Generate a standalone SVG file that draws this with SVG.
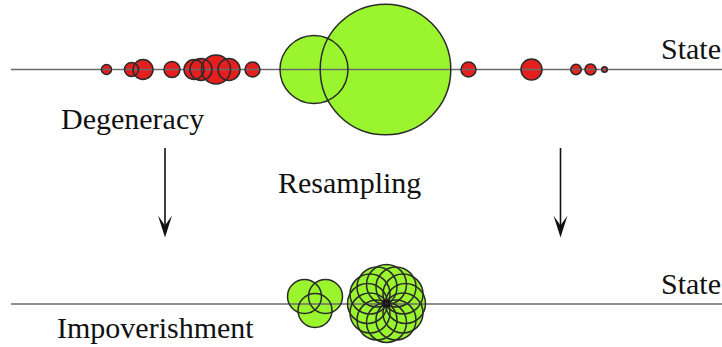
<svg xmlns="http://www.w3.org/2000/svg" width="722" height="347" viewBox="0 0 722 347">
<style>
.axis{stroke:#6b6b6b;stroke-width:1.6;fill:none}
.rf{fill:#e51e1e;stroke:none}
.gf{fill:#9af52e;stroke:none}
.ol{fill:none;stroke:#2a2a2a;stroke-width:1.5}
.lbl{font-family:'Liberation Serif','Times New Roman',serif;font-size:30px;fill:#111}
.arr{stroke:#111;stroke-width:1.6;fill:none}
.head{fill:#111;stroke:none}
</style>
<defs>
<g id="red">
<circle cx="106.5" cy="69.5" r="5"/>
<circle cx="131.5" cy="69.5" r="7"/>
<circle cx="143" cy="69.5" r="10"/>
<circle cx="172" cy="69.5" r="8"/>
<circle cx="194" cy="69.5" r="10"/>
<circle cx="201" cy="69.5" r="11"/>
<circle cx="216" cy="69.5" r="14.5"/>
<circle cx="229" cy="69.5" r="11"/>
<circle cx="252.5" cy="69.5" r="7.5"/>
<circle cx="468.5" cy="69.5" r="7.5"/>
<circle cx="531.5" cy="69.5" r="10.5"/>
<circle cx="576" cy="69.5" r="5.2"/>
<circle cx="590.5" cy="69.5" r="5.5"/>
<circle cx="604.5" cy="69.5" r="2.8"/>
</g>
<g id="greenTop">
<circle cx="314" cy="69.5" r="34"/>
<circle cx="385.5" cy="69.5" r="65.3"/>
</g>
<g id="trefoil">
<circle cx="304.5" cy="296.5" r="17"/>
<circle cx="325.5" cy="296.5" r="17"/>
<circle cx="315" cy="310.5" r="17"/>
</g>
<g id="flower">
<circle cx="405.5" cy="303.5" r="20"/>
<circle cx="403" cy="313" r="20"/>
<circle cx="396" cy="320" r="20"/>
<circle cx="386.5" cy="322.5" r="20"/>
<circle cx="377" cy="320" r="20"/>
<circle cx="370" cy="313" r="20"/>
<circle cx="367.5" cy="303.5" r="20"/>
<circle cx="370" cy="294" r="20"/>
<circle cx="377" cy="287" r="20"/>
<circle cx="386.5" cy="284.5" r="20"/>
<circle cx="396" cy="287" r="20"/>
<circle cx="403" cy="294" r="20"/>
</g>
</defs>

<g id="top-particles">
<use href="#red" class="rf"/>
<use href="#greenTop" class="gf"/>
<line class="axis" x1="11" y1="69.5" x2="722" y2="69.5"/>
<use href="#red" class="ol"/>
<use href="#greenTop" class="ol"/>
</g>

<g id="bottom-particles">
<use href="#trefoil" class="gf"/>
<use href="#flower" class="gf"/>
<line class="axis" x1="11" y1="304" x2="722" y2="304"/>
<use href="#trefoil" class="ol"/>
<use href="#flower" class="ol"/>
<rect x="384" y="301" width="5" height="5" fill="none" stroke="#111" stroke-width="1.5"/>
</g>

<g id="connectors">
<line class="arr" x1="165" y1="148" x2="165" y2="228"/>
<path class="head" d="M165,237.5 L158,215.5 L165,225.5 L172,215.5 Z"/>
<line class="arr" x1="560.5" y1="148" x2="560.5" y2="228"/>
<path class="head" d="M560.5,237.5 L553.5,215.5 L560.5,225.5 L567.5,215.5 Z"/>
</g>

<g id="labels" font-family="Liberation Serif, Times New Roman, serif" font-size="30">
<text class="lbl" x="661" y="59">State</text>
<text class="lbl" x="661" y="294">State</text>
<text class="lbl" x="61" y="129">Degeneracy</text>
<text class="lbl" x="278" y="193">Resampling</text>
<text class="lbl" x="57" y="338">Impoverishment</text>
</g>
</svg>
